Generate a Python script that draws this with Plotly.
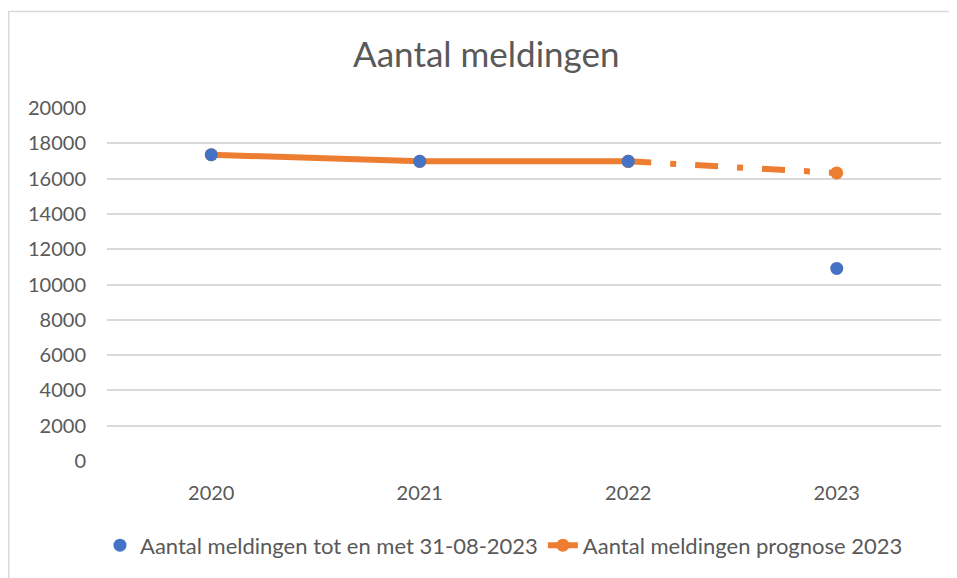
import plotly.graph_objects as go

years = ["2020", "2021", "2022", "2023"]
meldingen_tot_31_08_2023 = [17350, 16980, 16980, 10910]
prognose_2023 = [17350, 16980, 16980, 16320]
y_ticks = [0, 2000, 4000, 6000, 8000, 10000, 12000, 14000, 16000, 18000, 20000]

BLUE = "#4472C4"
ORANGE = "#ED7D31"
GRID = "#d9d9d9"
TXT = "#595959"
FONT = "Lato"

W, H = 949, 570
ML, MR, MT, MB = 99, 16, 100, 115
PW, PH = W - ML - MR, H - MT - MB

fig = go.Figure()

# solid part of the forecast (known years)
fig.add_trace(go.Scatter(
    x=years[:3], y=prognose_2023[:3], mode="lines+markers",
    name="Aantal meldingen prognose 2023",
    line=dict(color=ORANGE, width=6),
    marker=dict(color=ORANGE, size=13),
    legendrank=2,
))
# dash-dot part of the forecast
fig.add_trace(go.Scatter(
    x=years[2:], y=prognose_2023[2:], mode="lines+markers",
    name="Aantal meldingen prognose 2023",
    line=dict(color=ORANGE, width=6, dash="23px,19px,6px,19px"),
    marker=dict(color=ORANGE, size=13),
    showlegend=False,
))
fig.add_trace(go.Scatter(
    x=years, y=meldingen_tot_31_08_2023, mode="markers",
    name="Aantal meldingen tot en met 31-08-2023",
    marker=dict(color=BLUE, size=13),
    legendrank=1,
))

fig.update_layout(
    width=W, height=H,
    margin=dict(l=ML, r=MR, t=MT, b=MB),
    paper_bgcolor="white", plot_bgcolor="white",
    font=dict(family=FONT, color=TXT, size=20),
    title=dict(text="Aantal meldingen", x=0.504, xref="container", xanchor="center",
               y=1 - 47 / H, yref="container", yanchor="middle",
               font=dict(family=FONT, size=35, color=TXT)),
    showlegend=True,
    legend=dict(orientation="h", x=0.476, xanchor="center", y=-0.239, yanchor="middle",
                font=dict(family=FONT, size=22, color=TXT), bgcolor="rgba(0,0,0,0)",
                itemwidth=30, tracegroupgap=0),
    shapes=[dict(type="rect", xref="paper", yref="paper",
                 x0=(0.75 - ML) / PW, x1=1.1, y0=-0.5, y1=1 + (MT - 3) / PH,
                 line=dict(color=GRID, width=1.5), layer="below")],
)
fig.update_xaxes(type="category", range=[-0.5, 3.5], showgrid=False, zeroline=False,
                 showline=False, ticks="", ticklabelstandoff=18,
                 tickfont=dict(family=FONT, size=20, color=TXT))
fig.update_yaxes(range=[0, 20000], tickvals=y_ticks, ticktext=[str(v) for v in y_ticks],
                 showgrid=True, gridcolor=GRID, gridwidth=1.5, zeroline=False,
                 showline=False, ticks="", ticklabelstandoff=20,
                 tickfont=dict(family=FONT, size=20, color=TXT))

fig.write_html("out.html")
